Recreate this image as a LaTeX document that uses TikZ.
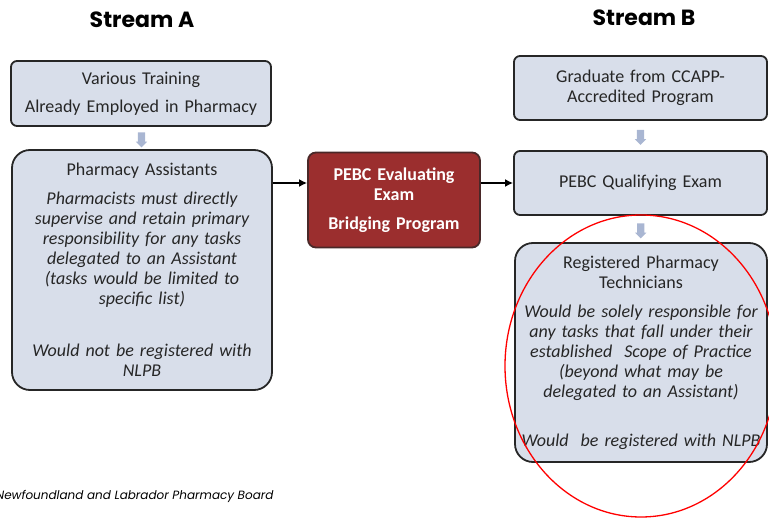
\documentclass[tikz,border=0pt]{standalone}
\usepackage{fontspec}
\setmainfont{Carlito}
\newfontfamily\headfont{Poppins}
\usetikzlibrary{shapes.arrows,arrows.meta,calc}

\definecolor{boxfill}{HTML}{D8DEEA}
\definecolor{boxedge}{HTML}{262626}
\definecolor{arrowfill}{HTML}{A9B6D2}
\definecolor{evalred}{HTML}{9B2E2E}

\tikzset{
    stagebox/.style={draw=boxedge, fill=boxfill, line width=1.8pt, inner sep=0pt,
        align=center, text=black!85, font=\fontsize{18}{20}\selectfont},
    evalbox/.style={stagebox, fill=evalred, draw=boxedge!70!evalred, text=white,
        font=\fontsize{18}{20}\selectfont\bfseries},
    downarrow/.style={single arrow, shape border rotate=270, fill=arrowfill,
        minimum height=15pt, inner sep=3.5pt, single arrow head extend=2pt},
    streamtitle/.style={font=\headfont\bfseries\fontsize{22}{26}\selectfont},
    flow/.style={line width=1.8pt, -{Latex[length=8pt,width=8pt]}}
}

\begin{document}
\begin{tikzpicture}[x=1pt,y=-1pt]
    \useasboundingbox (0,0) rectangle (769,518);

    % headings
    \node[streamtitle] (streamA) at (142,20) {Stream A};
    \node[streamtitle] (streamB) at (644,18) {Stream B};

    % Stream A
    \node[stagebox, rounded corners=6pt, minimum width=260, text width=260, minimum height=65]
        (training) at (141,93.5) {Various Training\\[8pt] Already Employed in Pharmacy};
    \node[stagebox, rounded corners=18pt, minimum width=260, text width=256, minimum height=240]
        (assist) at (142,270) {Pharmacy Assistants\\[9pt]
        \itshape Pharmacists must directly\\ supervise and retain primary\\
        responsibility for any tasks\\ delegated to an Assistant\\
        (tasks would be limited to\\ specific list)\\[32pt]
        Would not be registered with\\ NLPB};
    \node[downarrow] (arrA) at ($(training.south)!0.5!(assist.north)$) {};

    % bridging step
    \node[evalbox, rounded corners=8pt, minimum width=172, text width=172, minimum height=95]
        (evaluate) at (394,200) {PEBC Evaluating\\ Exam\\[9pt] Bridging Program};

    % Stream B
    \node[stagebox, rounded corners=6pt, minimum width=253, text width=253, minimum height=64]
        (graduate) at (640.5,88) {Graduate from CCAPP-\\ Accredited Program};
    \node[stagebox, rounded corners=6pt, minimum width=253, text width=253, minimum height=64]
        (qualify) at (640.5,183) {PEBC Qualifying Exam};
    \node[stagebox, rounded corners=18pt, minimum width=252, text width=250, minimum height=219]
        (techs) at (641,352.5) {Registered Pharmacy\\ Technicians\\[9pt]
        \itshape Would be solely responsible for\\ any tasks that fall under their\\
        established~ Scope of Practice\\ (beyond what may be\\
        delegated to an Assistant)\\[29pt]
        Would~ be registered with NLPB};
    \node[downarrow] (arrB1) at ($(graduate.south)!0.5!(qualify.north)$) {};
    \node[downarrow] (arrB2) at ($(qualify.south)!0.5!(techs.north)$) {};

    % connectors
    \draw[flow] (assist.east |- qualify.west) -- (evaluate.west |- qualify.west);
    \draw[flow] (evaluate.east |- qualify.west) -- (qualify.west);

    % highlight
    \draw[red, line width=1.3pt] (641,366) ellipse [x radius=136, y radius=151];

    % source
    \node[anchor=east, font=\headfont\itshape\fontsize{12}{14}\selectfont]
        (board) at (277,496) {Newfoundland and Labrador Pharmacy Board};
\end{tikzpicture}
\end{document}
